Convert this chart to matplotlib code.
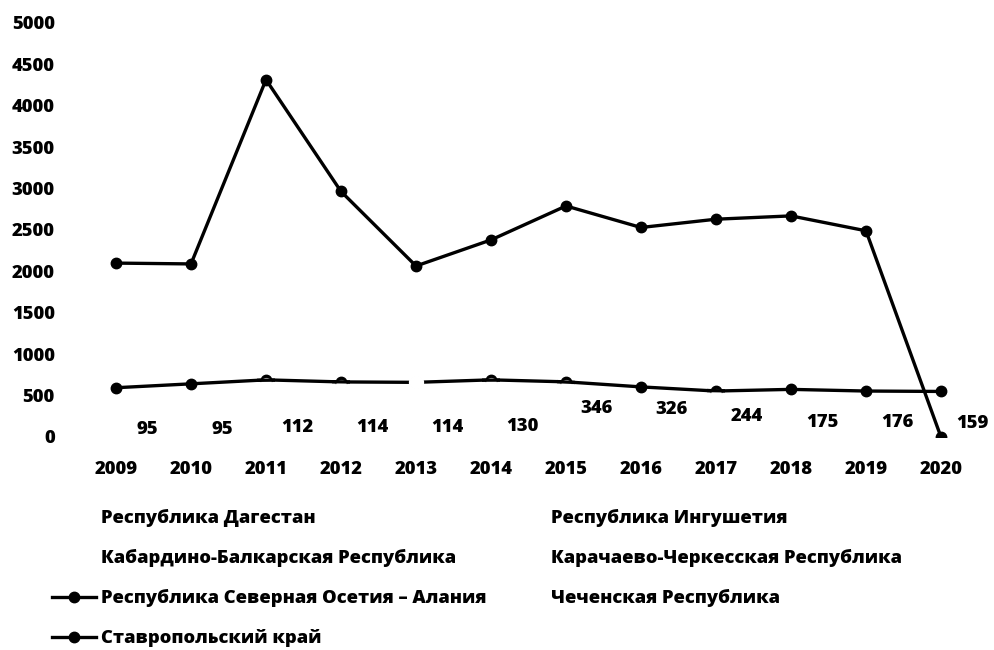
import matplotlib
matplotlib.use("Agg")
import matplotlib.pyplot as plt
from matplotlib.lines import Line2D
import matplotlib.transforms as mtransforms

plt.rcParams['font.family'] = ['Open Sans', 'DejaVu Sans']
W = 'heavy'
plt.rcParams['font.weight'] = W

years = ['2009', '2010', '2011', '2012', '2013', '2014', '2015', '2016', '2017', '2018', '2019', '2020']
stavropol = [2100, 2090, 4315, 2965, 2065, 2380, 2790, 2530, 2630, 2670, 2490, 0]
osetia = [595, 642, 690, 665, 660, 690, 666, 605, 555, 575, 555, 550]
label_series = [95, 95, 112, 114, 114, 130, 346, 326, 244, 175, 176, 159]
hidden_marker_idx = [2, 3, 5, 6, 8]   # markers partly covered by white
gap_idx = [4]

names_left = ['Республика Дагестан', 'Кабардино-Балкарская Республика',
              'Республика Северная Осетия – Алания', 'Ставропольский край']
names_right = ['Республика Ингушетия', 'Карачаево-Черкесская Республика',
               'Чеченская Республика']

FS = 13.2

fig = plt.figure(figsize=(9.95, 6.5), dpi=100)
ax = fig.add_axes([0.0789, 0.3277, 0.9045, 0.637])
x = list(range(len(years)))

ax.plot(x, stavropol, color='black', lw=2.4, marker='o', ms=7.5, zorder=3)
ax.plot(x, osetia, color='black', lw=2.4, marker='o', ms=7.5, zorder=3)

# white overlays emulating partially hidden markers / gap
off = mtransforms.offset_copy(ax.transData, fig=fig, x=0, y=-2.2, units='points')
for i in hidden_marker_idx:
    ax.plot([x[i]], [osetia[i]], marker='o', ms=7.0, color='white', mec='white',
            transform=off, zorder=4, ls='none')
for i in hidden_marker_idx:
    lo = max(i - 1, 0)
    hi = min(i + 1, len(x) - 1)
    ax.plot([x[i] - 0.12, x[i] + 0.12],
            [osetia[i] + (osetia[lo] - osetia[i]) * 0.12, osetia[i] + (osetia[hi] - osetia[i]) * 0.12],
            color='black', lw=2.4, zorder=5, solid_capstyle='butt')
for i in gap_idx:
    ax.plot([x[i]], [osetia[i]], marker='o', ms=10, color='white', mec='white',
            zorder=6, ls='none')

for i, v in enumerate(label_series):
    ax.annotate(str(v), (x[i], v), xytext=(31, 0), textcoords='offset pixels',
                ha='center', va='center', fontsize=FS, fontweight=W)

ax.set_xlim(-0.5, 11.5)
ax.set_ylim(0, 5000)
ax.set_xticks(x)
ax.set_xticklabels(years)
ax.set_yticks(range(0, 5001, 500))
ax.tick_params(axis='both', length=0, labelsize=FS)
ax.tick_params(axis='y', pad=17)
ax.tick_params(axis='x', pad=17)
for lab in ax.get_xticklabels() + ax.get_yticklabels():
    lab.set_fontweight(W)
for s in ax.spines.values():
    s.set_visible(False)

def handle(visible):
    if visible:
        return Line2D([], [], color='black', lw=2.4, marker='o', ms=7.5)
    return Line2D([], [], color='none', lw=0)

h_left = [handle(False), handle(False), handle(True), handle(True)]
h_right = [handle(False), handle(False), handle(False)]

leg_kw = dict(frameon=False, handlelength=2.4, handletextpad=0.25,
              labelspacing=1.2, borderpad=0, borderaxespad=0,
              prop={'weight': W, 'size': FS})
l1 = fig.legend(h_left, names_left, loc='upper left',
                bbox_to_anchor=(52 / 995, 1 - 509 / 650), **leg_kw)
l2 = fig.legend(h_right, names_right, loc='upper left',
                bbox_to_anchor=(502 / 995, 1 - 509 / 650), **leg_kw)

fig.savefig('out.png', dpi=100)
